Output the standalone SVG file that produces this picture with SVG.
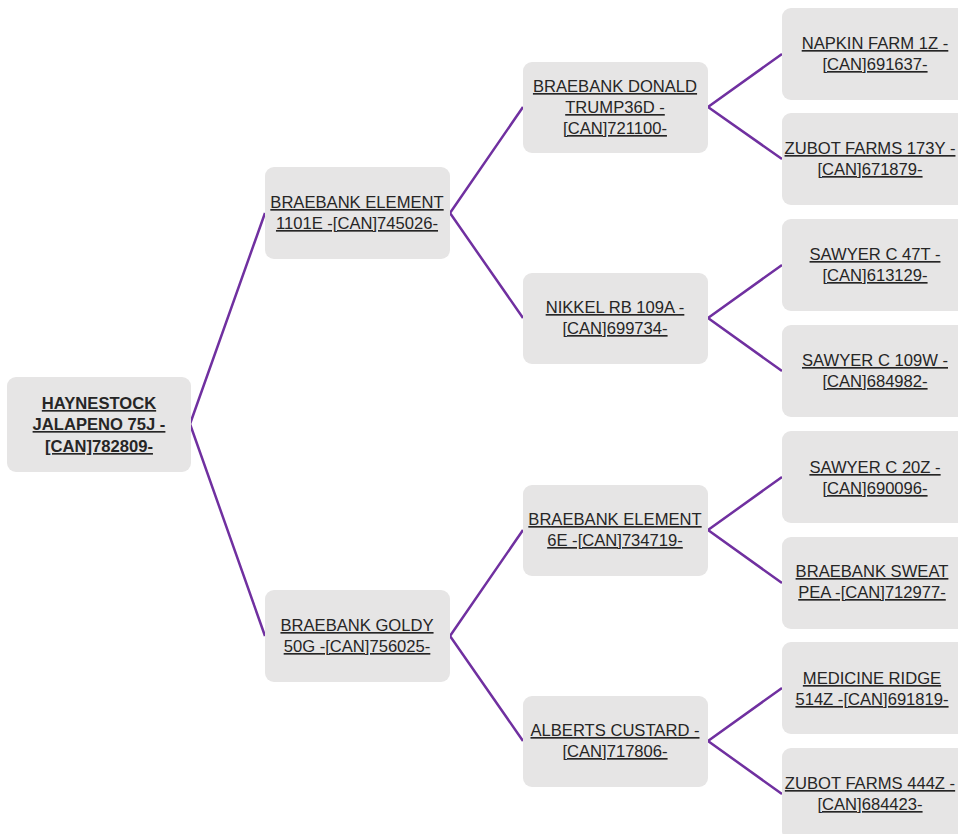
<svg xmlns="http://www.w3.org/2000/svg" width="958" height="834" viewBox="0 0 958 834">
<style>
.box{fill:#e6e5e5;}
.t{font-family:"Liberation Sans",Arial,sans-serif;font-size:16.6px;fill:#262626;text-anchor:middle;text-decoration:underline;}
.b{font-weight:bold;}
.c{fill:none;stroke:#7030a0;stroke-width:2.5;stroke-linejoin:miter;}
</style>
<rect width="958" height="834" fill="#ffffff"/>
<g id="connectors">
<path class="c" d="M265,213 L190,424 L265,636"/>
<path class="c" d="M523,107 L450,213 L523,318"/>
<path class="c" d="M523,530 L450,636 L523,741"/>
<path class="c" d="M782,54 L708,107 L782,159"/>
<path class="c" d="M782,265 L708,318 L782,371"/>
<path class="c" d="M782,477 L708,530 L782,583"/>
<path class="c" d="M782,688 L708,741 L782,794"/>
</g>
<g id="n0"><rect class="box" x="7" y="377" width="184" height="95" rx="9"/>
<text class="t b" x="99" y="409">HAYNESTOCK</text><text class="t b" x="99" y="430">JALAPENO 75J -</text><text class="t b" x="99" y="452">[CAN]782809-</text></g>
<g id="n1"><rect class="box" x="265" y="167" width="185" height="92" rx="9"/>
<text class="t" x="357" y="208">BRAEBANK ELEMENT</text><text class="t" x="357" y="229">1101E -[CAN]745026-</text></g>
<g id="n2"><rect class="box" x="265" y="590" width="185" height="92" rx="9"/>
<text class="t" x="357" y="631">BRAEBANK GOLDY</text><text class="t" x="357" y="652">50G -[CAN]756025-</text></g>
<g id="n3"><rect class="box" x="523" y="62" width="185" height="91" rx="9"/>
<text class="t" x="615" y="92">BRAEBANK DONALD</text><text class="t" x="615" y="113">TRUMP36D -</text><text class="t" x="615" y="134">[CAN]721100-</text></g>
<g id="n4"><rect class="box" x="523" y="273" width="185" height="91" rx="9"/>
<text class="t" x="615" y="313">NIKKEL RB 109A -</text><text class="t" x="615" y="334">[CAN]699734-</text></g>
<g id="n5"><rect class="box" x="523" y="485" width="185" height="91" rx="9"/>
<text class="t" x="615" y="525">BRAEBANK ELEMENT</text><text class="t" x="615" y="546">6E -[CAN]734719-</text></g>
<g id="n6"><rect class="box" x="523" y="696" width="185" height="91" rx="9"/>
<text class="t" x="615" y="736">ALBERTS CUSTARD -</text><text class="t" x="615" y="757">[CAN]717806-</text></g>
<g id="n7"><rect class="box" x="782" y="8" width="186" height="92" rx="9"/>
<text class="t" x="875" y="49">NAPKIN FARM 1Z -</text><text class="t" x="875" y="70">[CAN]691637-</text></g>
<g id="n8"><rect class="box" x="782" y="113" width="186" height="92" rx="9"/>
<text class="t" x="870" y="154">ZUBOT FARMS 173Y -</text><text class="t" x="870" y="175">[CAN]671879-</text></g>
<g id="n9"><rect class="box" x="782" y="219" width="186" height="92" rx="9"/>
<text class="t" x="875" y="260">SAWYER C 47T -</text><text class="t" x="875" y="281">[CAN]613129-</text></g>
<g id="n10"><rect class="box" x="782" y="325" width="186" height="92" rx="9"/>
<text class="t" x="875" y="366">SAWYER C 109W -</text><text class="t" x="875" y="387">[CAN]684982-</text></g>
<g id="n11"><rect class="box" x="782" y="431" width="186" height="92" rx="9"/>
<text class="t" x="875" y="473">SAWYER C 20Z -</text><text class="t" x="875" y="494">[CAN]690096-</text></g>
<g id="n12"><rect class="box" x="782" y="537" width="186" height="92" rx="9"/>
<text class="t" x="872" y="577">BRAEBANK SWEAT</text><text class="t" x="872" y="598">PEA -[CAN]712977-</text></g>
<g id="n13"><rect class="box" x="782" y="642" width="186" height="92" rx="9"/>
<text class="t" x="872" y="684">MEDICINE RIDGE</text><text class="t" x="872" y="705">514Z -[CAN]691819-</text></g>
<g id="n14"><rect class="box" x="782" y="748" width="186" height="92" rx="9"/>
<text class="t" x="870" y="789">ZUBOT FARMS 444Z -</text><text class="t" x="870" y="810">[CAN]684423-</text></g>
</svg>
